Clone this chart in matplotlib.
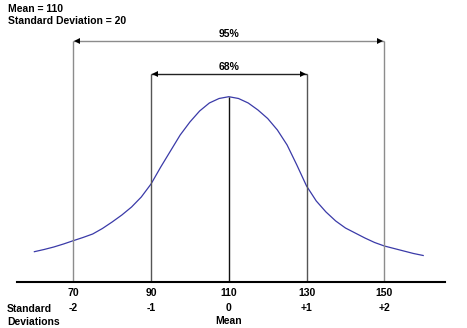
import matplotlib
matplotlib.use('Agg')
import matplotlib.pyplot as plt

plt.rcParams['font.family'] = ['Liberation Sans', 'DejaVu Sans']

# curve (relative height above the baseline)
score = [60, 62.5, 65, 67.5, 70, 72.5, 75, 77.5, 80, 82.5, 85, 87.5,
         90, 92.5, 95, 97.5, 100, 102.5, 105, 107.5, 110, 112.5, 115,
         117.5, 120, 122.5, 125, 127.5, 130, 132.5, 135, 137.5, 140,
         142.5, 145, 147.5, 150, 152.5, 155, 157.5, 160]
height = [30.0, 32.2, 34.7, 37.7, 41.0, 44.2, 47.7, 53.2, 59.7, 66.7, 74.7, 84.7,
          97.7, 114.7, 130.7, 146.7, 159.7, 170.7, 178.7, 183.2, 185.0, 183.2, 178.7,
          171.7, 163.2, 151.7, 136.7, 116.7, 95.7, 80.7, 69.7, 60.7, 53.7,
          48.7, 43.7, 39.2, 35.7, 33.2, 30.7, 28.2, 26.2]

mean = 110
sd = 20
tick_values = [70, 90, 110, 130, 150]
sd_labels = ['-2', '-1', '0', '+1', '+2']
ranges = [('95%', 70, 150, 240.7), ('68%', 90, 130, 207.7)]

FS = 7.5

fig = plt.figure(figsize=(4.67, 3.28), dpi=100)
ax = fig.add_axes([0.037, 0.1412, 0.9158, 0.8588])
ax.set_xlim(55.6, 165.6)
ax.set_ylim(0, 281.7)
for side in ['top', 'right', 'left']:
    ax.spines[side].set_visible(False)
ax.spines['bottom'].set_linewidth(1.5)
ax.set_xticks([])
ax.set_yticks([])

ax.plot(score, height, color='#3a3aa8', lw=0.9)

# vertical guide lines
peak = max(height)
line_colors = {70: '#8c8c8c', 90: '#555555', 110: '#111111', 130: '#555555', 150: '#8c8c8c'}
tops = {70: ranges[0][3], 150: ranges[0][3], 90: ranges[1][3], 130: ranges[1][3], 110: peak}
for v in tick_values:
    ax.vlines(v, 0, tops[v], color=line_colors[v], lw=1)

# range arrows
for label, lo, hi, y in ranges:
    shaft = '#8c8c8c' if label == '95%' else '#222222'
    ax.hlines(y, lo, hi, color=shaft, lw=1)
    ax.plot([lo + 1.0], [y], marker='<', color='black', ms=5, mew=0)
    ax.plot([hi - 1.0], [y], marker='>', color='black', ms=5, mew=0)
    ax.text((lo + hi) / 2, y + 7, label, ha='center', va='center',
            fontsize=FS, fontweight='bold')

# bottom labels
for v, s in zip(tick_values, sd_labels):
    ax.annotate(str(v), xy=(v, 0), xycoords=('data', 'axes fraction'),
                xytext=(0, -11.5), textcoords='offset pixels',
                ha='center', va='center', fontsize=FS, fontweight='bold')
    ax.annotate(s, xy=(v, 0), xycoords=('data', 'axes fraction'),
                xytext=(0, -26.5), textcoords='offset pixels',
                ha='center', va='center', fontsize=FS, fontweight='bold')
ax.annotate('Mean', xy=(mean, 0), xycoords=('data', 'axes fraction'),
            xytext=(0, -39.5), textcoords='offset pixels',
            ha='center', va='center', fontsize=FS, fontweight='bold')

fig.text(7 / 467, 1 - 309 / 328, 'Standard', ha='left', va='center',
         fontsize=FS, fontweight='bold')
fig.text(7 / 467, 1 - 322 / 328, 'Deviations', ha='left', va='center',
         fontsize=FS, fontweight='bold')

fig.text(8 / 467, 1 - 9 / 328, f'Mean = {mean}', ha='left', va='center',
         fontsize=FS, fontweight='bold')
fig.text(8 / 467, 1 - 21 / 328, f'Standard Deviation = {sd}', ha='left',
         va='center', fontsize=FS, fontweight='bold')

fig.savefig('out.png', dpi=100)
